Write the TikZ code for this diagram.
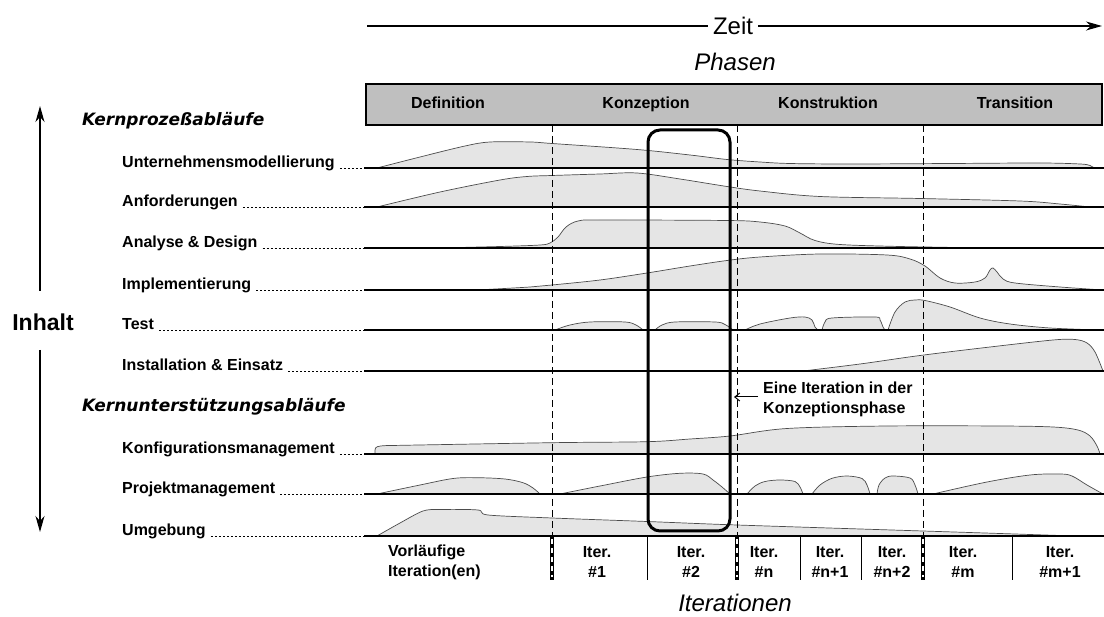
\documentclass[tikz,border=0pt]{standalone}
\usepackage{fontspec}
\setmainfont{Liberation Sans}
\newfontfamily\headfont{DejaVu Sans}
\usetikzlibrary{arrows.meta}

\begin{document}
\begin{tikzpicture}[x=1pt,y=-1pt,
  lbl/.style={font=\fontsize{16}{20}\selectfont\bfseries, inner sep=0pt},
  rowlbl/.style={lbl, anchor=base west},
  phlbl/.style={lbl, anchor=base},
  head/.style={font=\headfont\fontsize{17}{20}\selectfont\bfseries\itshape, inner sep=0pt, anchor=base west},
  big/.style={font=\fontsize{24}{28}\selectfont},
  bigit/.style={font=\fontsize{24}{28}\selectfont\itshape},
  flow/.style={draw=black!70, line width=0.7pt, fill=black!10},
  rowline/.style={line width=1.3pt},
  leader/.style={line width=0.8pt, dash pattern=on 2pt off 2pt},
  phaseline/.style={line width=1pt, dash pattern=on 7pt off 4pt},
  arr/.style={-{Stealth[length=16pt,width=9pt,inset=5pt]}, line width=1.2pt},
  notearrow/.style={-{Straight Barb[length=5pt,width=8pt]}, line width=1pt},
  itersep/.style={line width=1pt},
  iterlbl/.style={lbl, align=center, anchor=center}
]
\useasboundingbox (0,0) rectangle (1104,617);

% time axis
\coordinate (zs) at (367,26);
\coordinate (ze) at (1102,26);
\draw[arr] (zs) -- (ze);
\node[big, fill=white, inner xsep=5pt, inner ysep=1pt] (zeit) at (733,26) {Zeit};
\node[bigit] (phasen) at (735,62) {Phasen};

% phase bar
\draw[fill=black!25, line width=1.5pt] (366,84) rectangle (1102,125);
\node[phlbl] (ph1) at (448,109) {Definition};
\node[phlbl] (ph2) at (646,109) {Konzeption};
\node[phlbl] (ph3) at (828,109) {Konstruktion};
\node[phlbl] (ph4) at (1015,109) {Transition};

% content axis
\node[font=\fontsize{23}{26}\selectfont\bfseries, inner sep=0pt] (inh) at (43,322) {Inhalt};
\coordinate (ua) at (40,291);
\coordinate (ub) at (40,106);
\coordinate (da) at (40,350);
\coordinate (db) at (40,532);
\draw[arr] (ua) -- (ub);
\draw[arr] (da) -- (db);

% group headings
\node[head] (h1) at (82,126) {Kernprozeßabläufe};
\node[head] (h2) at (82,412) {Kernunterstützungsabläufe};

% workflow profiles
% Unternehmensmodellierung
\path[flow] plot[smooth,tension=0.55] coordinates {(377,168) (420,157) (465,146) (490,142) (530,142) (552,143.5) (637,149.5) (690,155) (727,159.5) (760,162) (790,163.5) (850,164) (950,163.5) (1040,163) (1080,164) (1090,165.5) (1094,168)} -- cycle;
% Anforderungen
\path[flow] plot[smooth,tension=0.55] coordinates {(377,207) (440,192) (500,180) (527,176.5) (552,175.5) (600,174) (637,173) (680,179) (727,186.5) (760,191) (820,196.5) (920,198.5) (1020,201) (1060,204) (1090,207)} -- cycle;
% Analyse & Design
\path[flow] plot[smooth,tension=0.55] coordinates {(437,248) (500,246.5) (540,245) (550,243) (558,237) (566,227) (578,221) (600,220) (727,220.5) (760,222) (785,226) (800,233) (815,240.5) (840,244.5) (900,246.5) (990,248)} -- cycle;
% Implementierung
\path[flow] plot[smooth,tension=0.55] coordinates {(477,290) (530,287) (552,285) (600,280) (647,273) (690,266) (727,260.5) (760,257) (820,254) (887,255) (910,259) (925,266) (940,278) (955,283) (975,282) (985,278) (990,270) (993,268) (997,272) (1003,279) (1015,283) (1060,287) (1103,290)} -- cycle;
% Test
\path[flow] plot[smooth,tension=0.55] coordinates {(555,330) (570,325) (590,322) (625,322) (636,325) (643,330)} -- cycle;
\path[flow] plot[smooth,tension=0.55] coordinates {(655,330) (662,325) (675,322) (715,322) (725,324.5) (733,330)} -- cycle;
\path[flow] plot[smooth,tension=0.55] coordinates {(745,330) (760,324) (790,318) (805,317) (812,320) (815,327) (818,330)} -- cycle;
\path[flow] plot[smooth,tension=0.55] coordinates {(822,330) (825,322) (832,318) (875,317) (880,320) (883,327) (885,330)} -- cycle;
\path[flow] plot[smooth,tension=0.55] coordinates {(888,330) (895,312) (905,302) (915,300) (925,300.5) (950,307) (980,318) (1010,324) (1050,328) (1100,330)} -- cycle;
% Installation & Einsatz
\path[flow] plot[smooth,tension=0.55] coordinates {(803,371) (860,364) (920,355.5) (990,347) (1053,340) (1075,339.5) (1087,343) (1095,352) (1103,371)} -- cycle;
% Konfigurationsmanagement
\path[flow] (375,454) -- (375,450) .. controls (375,446.5) and (378,446) .. (386,445.6)
  -- plot[smooth,tension=0.55] coordinates {(386,445.6) (552,442.7) (647,441.7) (690,439) (730,436) (787,428.5) (887,426) (1000,426) (1053,427) (1078,430) (1090,436) (1097,446) (1100,454)} -- cycle;
% Projektmanagement
\path[flow] plot[smooth,tension=0.55] coordinates {(377,494) (420,485) (453,478.5) (477,477.7) (505,479) (523,482.7) (533,488) (540,494)} -- cycle;
\path[flow] plot[smooth,tension=0.55] coordinates {(560,494) (600,486) (647,477) (680,473.3) (703,474) (713,480) (722,487) (730,494)} -- cycle;
\path[flow] plot[smooth,tension=0.55] coordinates {(747,494) (755,486) (765,481.5) (780,480) (795,481.5) (800,487) (803,494)} -- cycle;
\path[flow] plot[smooth,tension=0.55] coordinates {(812,494) (820,485) (832,478.3) (847,476) (862,478.5) (867,485) (870,494)} -- cycle;
\path[flow] plot[smooth,tension=0.55] coordinates {(877,494) (879,485) (885,478) (893,476) (910,478) (915,485) (918,494)} -- cycle;
\path[flow] plot[smooth,tension=0.55] coordinates {(933,494) (987,482) (1030,475) (1060,474) (1072,476) (1087,485) (1103,494)} -- cycle;
% Umgebung
\path[flow] plot[smooth,tension=0.5] coordinates {(377,536) (400,523) (423,511) (440,509.5) (478,510) (488,515) (552,518) (647,521.5) (737,525) (923,531) (1000,533.5) (1075,536)} -- cycle;

% workflow rows: label, leader and base line
\foreach \n/\yy/\txt in {1/168/Unternehmensmodellierung, 2/207/Anforderungen, 3/248/Analyse \& Design, 4/290/Implementierung, 5/330/Test, 6/371/Installation \& Einsatz, 7/454/Konfigurationsmanagement, 8/494/Projektmanagement, 9/536/Umgebung}{
  \node[rowlbl] (r\n) at (122,\yy) {\txt};
  \coordinate (s\n) at (364,\yy);
  \coordinate (e\n) at (1104,\yy);
  \draw[leader] ([xshift=5pt]r\n.base east) -- (s\n);
  \draw[rowline] (s\n) -- (e\n);
}

% phase boundaries
\foreach \x in {552,737,923}{
  \draw[phaseline] (\x,125) -- (\x,536);
  \draw[line width=4.5pt] (\x,536) -- (\x,580);
  \draw[white, line width=1.5pt, dash pattern=on 5pt off 4pt] (\x,539) -- (\x,577);
}
% iteration boundaries
\foreach \x in {647,800,861,1012}{
  \draw[itersep] (\x,536) -- (\x,580);
}

% highlighted iteration
\draw[line width=3pt, rounded corners=12pt] (648,130) rectangle (730,531);
\node[lbl, align=left, anchor=west] (note) at (763,399) {Eine Iteration in der\\Konzeptionsphase};
\coordinate (tip) at (734,397);
\draw[notearrow] ([xshift=-5pt]note.west |- tip) -- (tip);

% iteration labels
\node[lbl, align=left, anchor=west] (it0) at (388,562) {Vorläufige\\Iteration(en)};
\node[iterlbl] (it1) at (597,562) {Iter.\\\#1};
\node[iterlbl] (it2) at (691,562) {Iter.\\\#2};
\node[iterlbl] (it3) at (764,562) {Iter.\\\#n};
\node[iterlbl] (it4) at (830,562) {Iter.\\\#n+1};
\node[iterlbl] (it5) at (892,562) {Iter.\\\#n+2};
\node[iterlbl] (it6) at (963,562) {Iter.\\\#m};
\node[iterlbl] (it7) at (1060,562) {Iter.\\\#m+1};
\node[bigit, inner sep=0pt] (iters) at (735,603) {Iterationen};

\end{tikzpicture}
\end{document}
